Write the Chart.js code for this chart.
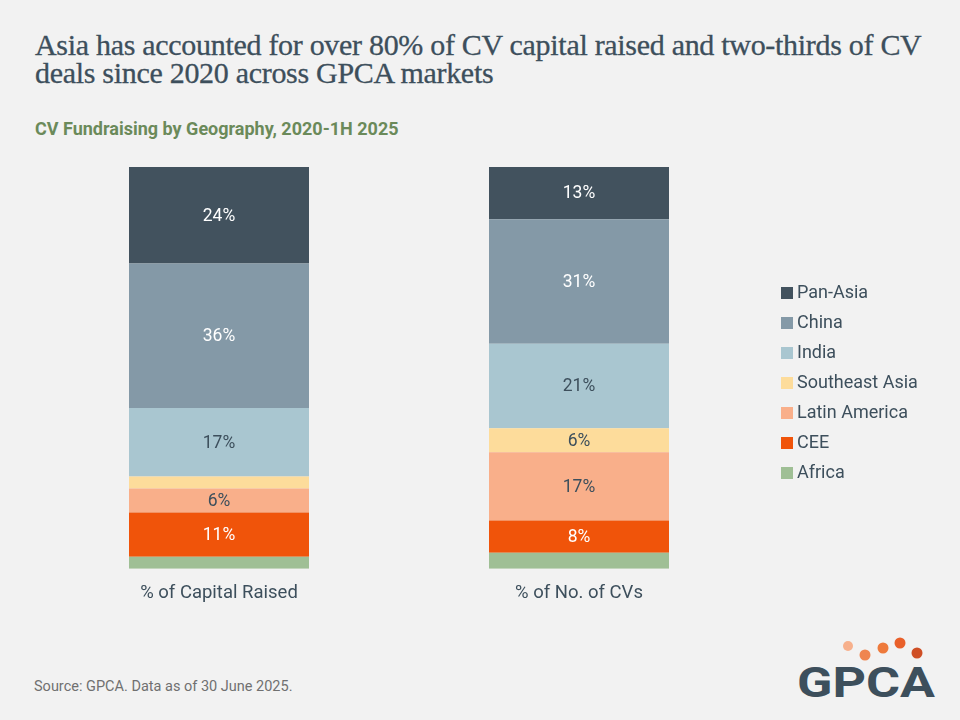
<!DOCTYPE html>
<html>
<head>
<meta charset="utf-8">
<script src="https://cdn.jsdelivr.net/npm/chart.js@4"></script>
<style>
  html, body { margin:0; padding:0; background:#f2f2f2; }
  body { width:960px; height:720px; position:relative; overflow:hidden; font-family:Roboto, sans-serif; }
  #title { position:absolute; left:35px; top:31px; width:910px; font-family:"Liberation Serif", serif; font-size:30px; line-height:28px; color:#3d4f5c; letter-spacing:-0.3px; -webkit-text-stroke:0.3px #3d4f5c; }
  #subtitle { position:absolute; left:35px; top:118px; font-size:18px; font-weight:700; color:#6b8a5a; }
  #wrap { position:absolute; left:0; top:150px; width:960px; height:459px; }
  #source { position:absolute; left:34px; top:678px; font-size:14.5px; color:#707070; }
  #logo { position:absolute; left:790px; top:632px; }
</style>
</head>
<body>
<div id="title">Asia has accounted for over 80% of CV capital raised and two-thirds of CV deals since 2020 across GPCA markets</div>
<div id="subtitle">CV Fundraising by Geography, 2020-1H 2025</div>
<div id="wrap"><canvas id="c"></canvas></div>
<div id="source">Source: GPCA. Data as of 30 June 2025.</div>
<svg id="logo" width="160" height="80" viewBox="0 0 160 80">
  <circle cx="58" cy="14" r="5" fill="#f7b08c"/>
  <circle cx="75" cy="23" r="5.5" fill="#ef8550"/>
  <circle cx="93" cy="16" r="5.5" fill="#ee7a3c"/>
  <circle cx="110" cy="11" r="5.5" fill="#e9602a"/>
  <circle cx="127" cy="21" r="5.5" fill="#cf4f25"/>
  <text x="7" y="65" font-family="Roboto, sans-serif" font-weight="700" font-size="43" fill="#3d4f5c" textLength="138" lengthAdjust="spacingAndGlyphs">GPCA</text>
</svg>
<script>
// categories and series (percent shares)
const categories = ['% of Capital Raised', '% of No. of CVs'];
const regions = ['Pan-Asia', 'China', 'India', 'Southeast Asia', 'Latin America', 'CEE', 'Africa'];
const panAsia = [24, 13];
const china = [36, 31];
const india = [17, 21];
const seAsia = [3, 6];
const latam = [6, 17];
const cee = [11, 8];
const africa = [3, 4];
const colors = ['#42525e', '#8499a7', '#a9c6d0', '#fddc9b', '#f9af8a', '#f0540a', '#9fbf95'];
const labelColors = ['#ffffff', '#ffffff', '#3d4f5c', '#3d4f5c', '#3d4f5c', '#ffffff', '#3d4f5c'];
const series = [panAsia, china, india, seAsia, latam, cee, africa];

// stack bottom-up: Africa first (bottom), Pan-Asia last (top)
const datasets = series.map((d, i) => ({
  label: regions[i], data: d, backgroundColor: colors[i],
  stack: 's', barPercentage: 1, categoryPercentage: 0.5
})).reverse();

const valueLabels = {
  id: 'valueLabels',
  afterDatasetsDraw(chart) {
    const ctx = chart.ctx;
    ctx.save();
    ctx.font = '17.5px Roboto';
    ctx.textAlign = 'center';
    ctx.textBaseline = 'middle';
    chart.data.datasets.forEach((ds, di) => {
      const idx = regions.indexOf(ds.label);
      chart.getDatasetMeta(di).data.forEach((bar, j) => {
        const v = ds.data[j];
        if (v < 5) return;
        ctx.fillStyle = labelColors[idx];
        ctx.fillText(v + '%', bar.x, (bar.y + bar.base) / 2 + 1);
      });
    });
    ctx.restore();
  }
};

const sideLegend = {
  id: 'sideLegend',
  afterDraw(chart) {
    const ctx = chart.ctx;
    ctx.save();
    ctx.font = '18px Roboto';
    ctx.textBaseline = 'middle';
    regions.forEach((r, i) => {
      const y = 143 + i * 30;
      ctx.fillStyle = colors[i];
      ctx.fillRect(781, y - 6, 12, 12);
      ctx.fillStyle = '#3d4f5c';
      ctx.fillText(r, 797, y);
    });
    ctx.restore();
  }
};

new Chart(document.getElementById('c'), {
  type: 'bar',
  data: { labels: categories, datasets },
  options: {
    responsive: true, maintainAspectRatio: false, animation: false,
    layout: { padding: { left: 39, right: 201, top: 17, bottom: 0 } },
    plugins: { legend: { display: false }, tooltip: { enabled: false } },
    scales: {
      x: { stacked: true, grid: { display: false }, border: { display: false },
           ticks: { color: '#3d4f5c', font: { family: 'Roboto', size: 18.5 }, padding: 5 } },
      y: { stacked: true, display: false, min: 0, max: 100 }
    }
  },
  plugins: [valueLabels, sideLegend]
});
</script>
</body>
</html>
